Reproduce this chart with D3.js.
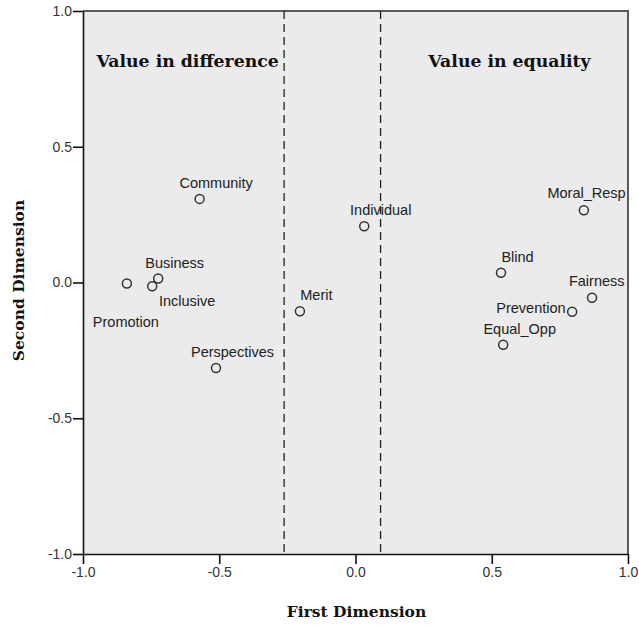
<!DOCTYPE html>
<html>
<head>
<meta charset="utf-8">
<script src="https://cdn.jsdelivr.net/npm/d3@7"></script>
<style>
  body { margin: 0; background: #fff; }
  svg { display: block; }
</style>
</head>
<body>
<div id="chart"></div>
<script>
// data
var labels = ["Community", "Business", "Inclusive", "Promotion", "Perspectives", "Merit",
              "Individual", "Moral_Resp", "Blind", "Fairness", "Prevention", "Equal_Opp"];
var dim1 = [-0.572, -0.724, -0.746, -0.839, -0.512, -0.204, 0.032, 0.838, 0.534, 0.868, 0.795, 0.542];
var dim2 = [0.308, 0.015, -0.014, -0.004, -0.315, -0.106, 0.207, 0.266, 0.036, -0.056, -0.108, -0.229];
var tickValues = [-1.0, -0.5, 0.0, 0.5, 1.0];
var dividers = [-0.262, 0.092];
var regionNames = ["Value in difference", "Value in equality"];
var regionCentres = [-0.616, 0.565];

var w = 639, h = 628;
var plotLeft = 83, plotRight = 628, plotTop = 11, plotBottom = 554;

// where each label sits relative to its point (default is above-right)
var labelPlace = {
  "Inclusive":  {dx: 35, dy: 15, anchor: "middle"},
  "Promotion":  {dx: -1, dy: 38, anchor: "middle"},
  "Moral_Resp": {dx: 2.7, dy: -17, anchor: "middle"},
  "Fairness":   {dx: 4.7, dy: -17, anchor: "middle"},
  "Prevention": {dx: -6.5, dy: -3.6, anchor: "end"}
};

var svg = d3.select("#chart").append("svg")
  .attr("width", w)
  .attr("height", h);

var x = d3.scaleLinear().domain([-1, 1]).range([plotLeft, plotRight]);
var y = d3.scaleLinear().domain([-1, 1]).range([plotBottom, plotTop]);

// plain hyphen like SPSS, not the unicode minus
var fmt = function (d) { return d3.format(".1f")(d).replace("\u2212", "-"); };

// plot background
svg.append("rect")
  .attr("x", plotLeft).attr("y", plotTop)
  .attr("width", plotRight - plotLeft).attr("height", plotBottom - plotTop)
  .attr("fill", "#ebebeb");

// top + right frame
svg.append("path")
  .attr("d", "M" + plotLeft + "," + plotTop + "H" + plotRight + "V" + plotBottom)
  .attr("fill", "none")
  .attr("stroke", "#5a5a5a")
  .attr("stroke-width", 2);

// dashed dividers
svg.selectAll("line.divider")
  .data(dividers)
  .enter().append("line")
  .attr("class", "divider")
  .attr("x1", function (d) { return x(d); })
  .attr("x2", function (d) { return x(d); })
  .attr("y1", plotTop)
  .attr("y2", plotBottom)
  .attr("stroke", "#222")
  .attr("stroke-width", 1.3)
  .attr("stroke-dasharray", "8,5");

// axes
var xAxis = svg.append("g")
  .attr("transform", "translate(0," + plotBottom + ")")
  .call(d3.axisBottom(x).tickValues(tickValues).tickFormat(fmt).tickSizeInner(10).tickSizeOuter(0).tickPadding(3));
var yAxis = svg.append("g")
  .attr("transform", "translate(" + plotLeft + ",0)")
  .call(d3.axisLeft(y).tickValues(tickValues).tickFormat(fmt).tickSizeInner(10).tickSizeOuter(0).tickPadding(1));

[xAxis, yAxis].forEach(function (g) {
  g.select(".domain").attr("stroke", "#111").attr("stroke-width", 1.6);
  g.selectAll(".tick line").attr("stroke", "#111").attr("stroke-width", 1.6);
  g.selectAll(".tick text")
    .attr("fill", "#333")
    .style("font-family", "'Liberation Sans', Arial, sans-serif")
    .style("font-size", "14px");
});

// region titles
svg.selectAll("text.region")
  .data(regionNames)
  .enter().append("text")
  .attr("class", "region")
  .attr("x", function (d, i) { return x(regionCentres[i]); })
  .attr("y", 61)
  .attr("dy", "0.35em")
  .attr("text-anchor", "middle")
  .attr("fill", "#111")
  .style("font-family", "'DejaVu Serif', serif")
  .style("font-weight", "bold")
  .style("font-size", "17.3px")
  .text(function (d) { return d; });

// points
var pts = labels.map(function (d, i) { return {name: d, x: dim1[i], y: dim2[i]}; });

var node = svg.selectAll("g.node")
  .data(pts)
  .enter().append("g")
  .attr("class", "node")
  .attr("transform", function (d) { return "translate(" + x(d.x) + "," + y(d.y) + ")"; });

node.append("circle")
  .attr("r", 4.5)
  .attr("fill", "none")
  .attr("stroke", "#333")
  .attr("stroke-width", 1.5);

node.append("text")
  .attr("x", function (d) { return labelPlace[d.name] ? labelPlace[d.name].dx : 16.5; })
  .attr("y", function (d) { return labelPlace[d.name] ? labelPlace[d.name].dy : -16; })
  .attr("dy", "0.35em")
  .attr("text-anchor", function (d) { return labelPlace[d.name] ? labelPlace[d.name].anchor : "middle"; })
  .attr("fill", "#222")
  .style("font-family", "'Liberation Sans', Arial, sans-serif")
  .style("font-size", "14.5px")
  .text(function (d) { return d.name; });

// axis titles
svg.append("text")
  .attr("x", (plotLeft + plotRight) / 2 + 1)
  .attr("y", 612)
  .attr("dy", "0.35em")
  .attr("text-anchor", "middle")
  .attr("fill", "#111")
  .style("font-family", "'DejaVu Serif', serif")
  .style("font-weight", "bold")
  .style("font-size", "15.5px")
  .text("First Dimension");

svg.append("text")
  .attr("transform", "translate(19," + ((plotTop + plotBottom) / 2 - 2) + ") rotate(-90)")
  .attr("dy", "0.35em")
  .attr("text-anchor", "middle")
  .attr("fill", "#111")
  .style("font-family", "'DejaVu Serif', serif")
  .style("font-weight", "bold")
  .style("font-size", "15.5px")
  .text("Second Dimension");
</script>
</body>
</html>
